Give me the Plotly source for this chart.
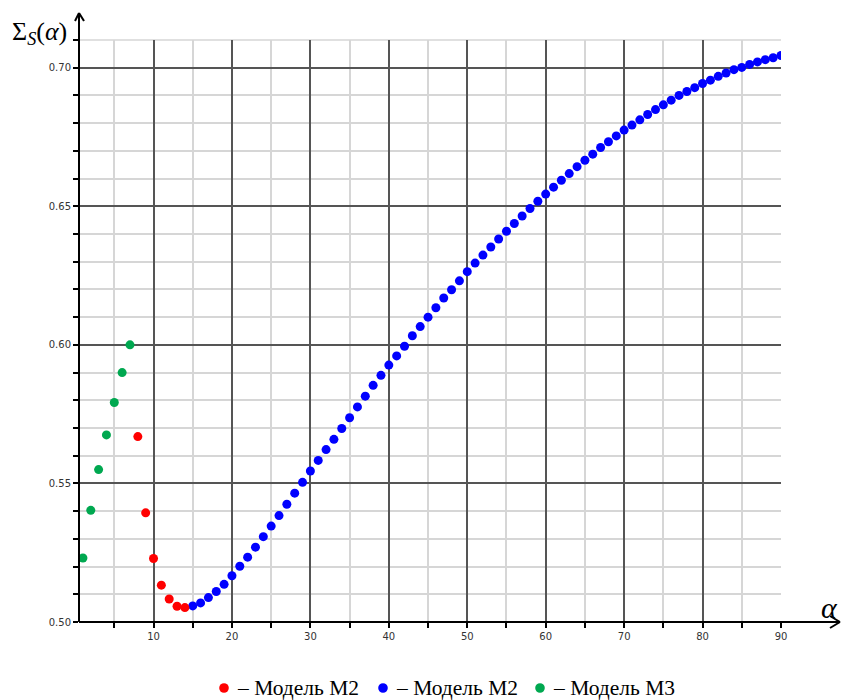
import plotly.graph_objects as go

# Model M3 (alpha = 1..7)
alpha_m3 = [1, 2, 3, 4, 5, 6, 7]
sigma_m3 = [0.5231, 0.5403, 0.5550, 0.5675, 0.5792, 0.5900, 0.6000]

# Model M2, first branch (alpha = 8..14)
alpha_m2_red = [8, 9, 10, 11, 12, 13, 14]
sigma_m2_red = [0.5669, 0.5394, 0.5229, 0.5133, 0.5083, 0.5057, 0.5052]

# Model M2, main branch (alpha = 15..90)
alpha_m2_blue = list(range(15, 91))
sigma_m2_blue = [
    0.5058, 0.5069, 0.5088, 0.5110, 0.5136, 0.5167, 0.5201, 0.5234, 0.5270, 0.5308,
    0.5346, 0.5384, 0.5425, 0.5465, 0.5504, 0.5545, 0.5583, 0.5622, 0.5659, 0.5698,
    0.5737, 0.5776, 0.5815, 0.5854, 0.5890, 0.5927, 0.5960, 0.5995, 0.6033, 0.6066,
    0.6100, 0.6134, 0.6169, 0.6199, 0.6231, 0.6264, 0.6295, 0.6324, 0.6353, 0.6382,
    0.6410, 0.6438, 0.6465, 0.6492, 0.6518, 0.6544, 0.6569, 0.6594, 0.6618, 0.6643,
    0.6666, 0.6688, 0.6712, 0.6733, 0.6754, 0.6775, 0.6793, 0.6812, 0.6831, 0.6849,
    0.6866, 0.6883, 0.6900, 0.6914, 0.6928, 0.6943, 0.6955, 0.6969, 0.6981, 0.6993,
    0.7001, 0.7012, 0.7021, 0.7029, 0.7036, 0.7044,
]

y_tickvals = [0.50, 0.55, 0.60, 0.65, 0.70]
y_ticktext = ["0.50", "0.55", "0.60", "0.65", "0.70"]
x_tickvals = [10, 20, 30, 40, 50, 60, 70, 80, 90]
x_ticktext = ["10", "20", "30", "40", "50", "60", "70", "80", "90"]

legend_labels = ["– Модель М2", "– Модель М2", "– Модель М3"]

RED, BLUE, GREEN = "#ff0000", "#0000ff", "#00a850"
SERIF = "Liberation Serif"

fig = go.Figure()
fig.add_trace(go.Scatter(x=alpha_m2_blue, y=sigma_m2_blue, mode="markers",
                         marker=dict(color=BLUE, size=9), name=legend_labels[1],
                         showlegend=False))
fig.add_trace(go.Scatter(x=alpha_m2_red, y=sigma_m2_red, mode="markers",
                         marker=dict(color=RED, size=9), name=legend_labels[0],
                         showlegend=False))
fig.add_trace(go.Scatter(x=alpha_m3, y=sigma_m3, mode="markers",
                         marker=dict(color=GREEN, size=9), name=legend_labels[2],
                         showlegend=False))

# plot area in pixels
L, R, T, B = 79, 781, 40, 622
W, H = R - L, B - T


def px(x):
    return (x - L) / W


def py(y):
    return (B - y) / H


axis_line = dict(color="black", width=2)
shapes = [
    # x axis with arrow
    dict(type="line", xref="paper", yref="paper", x0=0, y0=0, x1=px(840), y1=0, line=axis_line),
    dict(type="line", xref="paper", yref="paper", x0=px(830), y0=py(616), x1=px(840), y1=0, line=axis_line),
    dict(type="line", xref="paper", yref="paper", x0=px(830), y0=py(628), x1=px(840), y1=0, line=axis_line),
    # y axis with arrow
    dict(type="line", xref="paper", yref="paper", x0=0, y0=0, x1=0, y1=py(13), line=axis_line),
    dict(type="line", xref="paper", yref="paper", x0=px(75), y0=py(21), x1=0, y1=py(13), line=axis_line),
    dict(type="line", xref="paper", yref="paper", x0=px(84), y0=py(21), x1=0, y1=py(13), line=axis_line),
    # top border gridline
    dict(type="line", xref="paper", yref="paper", x0=0, y0=1, x1=1, y1=1,
         line=dict(color="#d6d6d6", width=1.5), layer="below"),
]

annotations = [
    dict(text="Σ<sub><i>S</i></sub>(<i>α</i>)", xref="paper", yref="paper",
         x=px(39), y=py(33), xanchor="center", yanchor="middle", showarrow=False,
         font=dict(family=SERIF, size=26, color="black")),
    dict(text="<i>α</i>", xref="paper", yref="paper",
         x=px(829), y=py(607), xanchor="center", yanchor="middle", showarrow=False,
         font=dict(family=SERIF, size=30, color="black")),
]

# key below the chart: coloured dot followed by its label
key_y = 688
for cx, color, label in zip([224, 383, 540], [RED, BLUE, GREEN], legend_labels):
    r = 4.8
    shapes.append(dict(type="circle", xref="paper", yref="paper",
                       x0=px(cx - r), x1=px(cx + r), y0=py(key_y + r), y1=py(key_y - r),
                       fillcolor=color, line=dict(width=0)))
    annotations.append(dict(text=label, xref="paper", yref="paper",
                            x=px(cx + 11), y=py(key_y), xanchor="left", yanchor="middle",
                            showarrow=False,
                            font=dict(family=SERIF, size=21.5, color="black")))

tick_font = dict(family="DejaVu Sans", size=10, color="#333333")

fig.update_layout(
    width=847, height=700, autosize=False,
    margin=dict(l=L, r=847 - R, t=T, b=700 - B, pad=0),
    paper_bgcolor="white", plot_bgcolor="white",
    showlegend=False,
    shapes=shapes,
    annotations=annotations,
    xaxis=dict(
        range=[0.5, 90], tickvals=x_tickvals, ticktext=x_ticktext,
        ticks="outside", ticklen=5, tickcolor="black", tickwidth=1.5,
        showgrid=True, gridcolor="#555555", gridwidth=1.5,
        minor=dict(dtick=5, tick0=0, ticks="outside", ticklen=5, tickcolor="black",
                   tickwidth=1.5, showgrid=True, gridcolor="#d6d6d6", gridwidth=1.5),
        zeroline=False, showline=False, tickfont=tick_font, fixedrange=True,
    ),
    yaxis=dict(
        range=[0.50, 0.71], tickvals=y_tickvals, ticktext=y_ticktext,
        ticks="outside", ticklen=5, tickcolor="black", tickwidth=1.5,
        showgrid=True, gridcolor="#555555", gridwidth=1.5,
        minor=dict(dtick=0.01, tick0=0.5, ticks="outside", ticklen=5, tickcolor="black",
                   tickwidth=1.5, showgrid=True, gridcolor="#d6d6d6", gridwidth=1.5),
        zeroline=False, showline=False, tickfont=tick_font, fixedrange=True,
    ),
)

fig.write_html("out.html")
